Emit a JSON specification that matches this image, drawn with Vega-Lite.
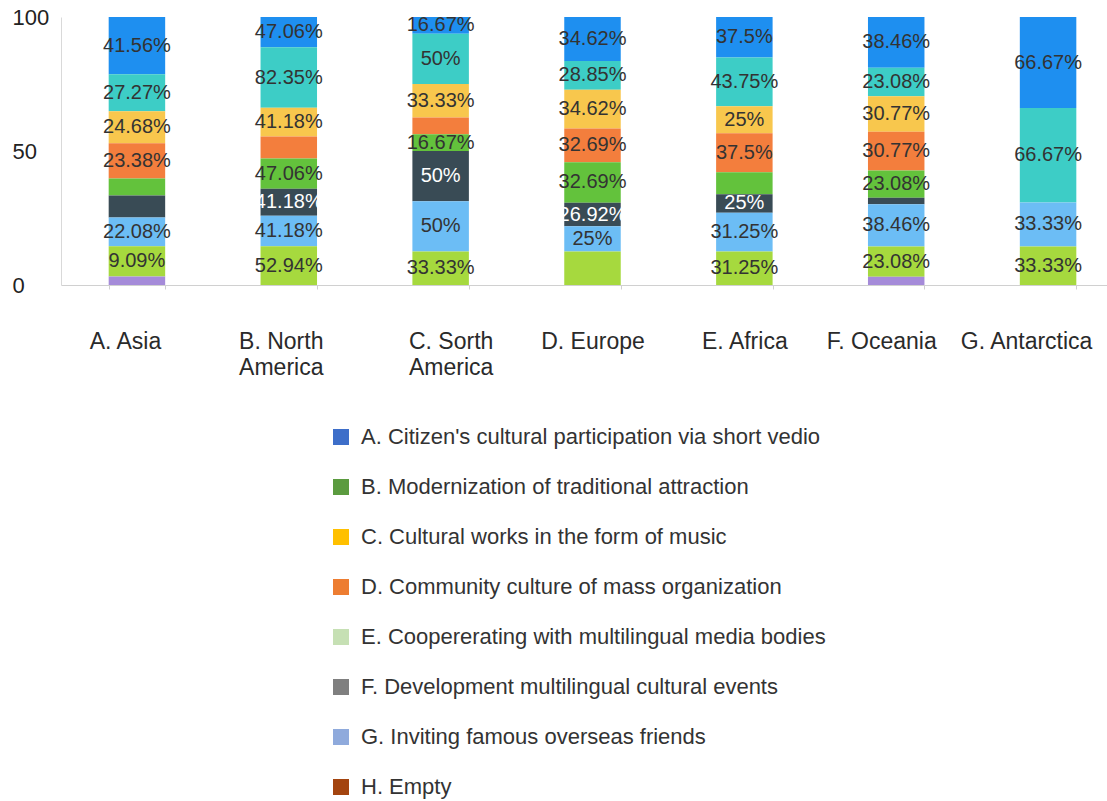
{
  "$schema": "https://vega.github.io/schema/vega-lite/v6.json",
  "width": 1046,
  "height": 268,
  "autosize": {"type": "none"},
  "padding": {"left": 61, "top": 17, "right": 0, "bottom": 516},
  "background": "white",
  "config": {
    "font": "Liberation Sans",
    "view": {"stroke": null}
  },
  "datasets": {
    "bars": [
      {"region": "A. Asia", "segment": 9, "value": 21.4, "label": "41.56%"},
      {"region": "A. Asia", "segment": 8, "value": 13.8, "label": "27.27%"},
      {"region": "A. Asia", "segment": 7, "value": 11.9, "label": "24.68%"},
      {"region": "A. Asia", "segment": 6, "value": 13.2, "label": "23.38%"},
      {"region": "A. Asia", "segment": 5, "value": 6.3, "label": ""},
      {"region": "A. Asia", "segment": 4, "value": 8.2, "label": ""},
      {"region": "A. Asia", "segment": 3, "value": 10.7, "label": "22.08%"},
      {"region": "A. Asia", "segment": 2, "value": 11.3, "label": "9.09%"},
      {"region": "A. Asia", "segment": 1, "value": 3.2, "label": ""},
      {"region": "B. North America", "segment": 9, "value": 11.3, "label": "47.06%"},
      {"region": "B. North America", "segment": 8, "value": 22.6, "label": "82.35%"},
      {"region": "B. North America", "segment": 7, "value": 10.7, "label": "41.18%"},
      {"region": "B. North America", "segment": 6, "value": 8.2, "label": ""},
      {"region": "B. North America", "segment": 5, "value": 11.3, "label": "47.06%"},
      {"region": "B. North America", "segment": 4, "value": 10.1, "label": "41.18%"},
      {"region": "B. North America", "segment": 3, "value": 11.3, "label": "41.18%"},
      {"region": "B. North America", "segment": 2, "value": 14.5, "label": "52.94%"},
      {"region": "C. Sorth America", "segment": 9, "value": 6.25, "label": "16.67%"},
      {"region": "C. Sorth America", "segment": 8, "value": 18.75, "label": "50%"},
      {"region": "C. Sorth America", "segment": 7, "value": 12.5, "label": "33.33%"},
      {"region": "C. Sorth America", "segment": 6, "value": 6.25, "label": ""},
      {"region": "C. Sorth America", "segment": 5, "value": 6.25, "label": "16.67%"},
      {"region": "C. Sorth America", "segment": 4, "value": 18.75, "label": "50%"},
      {"region": "C. Sorth America", "segment": 3, "value": 18.75, "label": "50%"},
      {"region": "C. Sorth America", "segment": 2, "value": 12.5, "label": "33.33%"},
      {"region": "D. Europe", "segment": 9, "value": 16.4, "label": "34.62%"},
      {"region": "D. Europe", "segment": 8, "value": 10.7, "label": "28.85%"},
      {"region": "D. Europe", "segment": 7, "value": 14.5, "label": "34.62%"},
      {"region": "D. Europe", "segment": 6, "value": 12.6, "label": "32.69%"},
      {"region": "D. Europe", "segment": 5, "value": 15.1, "label": "32.69%"},
      {"region": "D. Europe", "segment": 4, "value": 8.8, "label": "26.92%"},
      {"region": "D. Europe", "segment": 3, "value": 9.4, "label": "25%"},
      {"region": "D. Europe", "segment": 2, "value": 12.5, "label": ""},
      {"region": "E. Africa", "segment": 9, "value": 15.1, "label": "37.5%"},
      {"region": "E. Africa", "segment": 8, "value": 18.2, "label": "43.75%"},
      {"region": "E. Africa", "segment": 7, "value": 10.1, "label": "25%"},
      {"region": "E. Africa", "segment": 6, "value": 14.5, "label": "37.5%"},
      {"region": "E. Africa", "segment": 5, "value": 8.2, "label": ""},
      {"region": "E. Africa", "segment": 4, "value": 6.9, "label": "25%"},
      {"region": "E. Africa", "segment": 3, "value": 14.5, "label": "31.25%"},
      {"region": "E. Africa", "segment": 2, "value": 12.5, "label": "31.25%"},
      {"region": "F. Oceania", "segment": 9, "value": 18.9, "label": "38.46%"},
      {"region": "F. Oceania", "segment": 8, "value": 10.7, "label": "23.08%"},
      {"region": "F. Oceania", "segment": 7, "value": 13.2, "label": "30.77%"},
      {"region": "F. Oceania", "segment": 6, "value": 14.5, "label": "30.77%"},
      {"region": "F. Oceania", "segment": 5, "value": 10.1, "label": "23.08%"},
      {"region": "F. Oceania", "segment": 4, "value": 2.5, "label": ""},
      {"region": "F. Oceania", "segment": 3, "value": 15.7, "label": "38.46%"},
      {"region": "F. Oceania", "segment": 2, "value": 11.3, "label": "23.08%"},
      {"region": "F. Oceania", "segment": 1, "value": 3.1, "label": ""},
      {"region": "G. Antarctica", "segment": 9, "value": 34.0, "label": "66.67%"},
      {"region": "G. Antarctica", "segment": 8, "value": 35.2, "label": "66.67%"},
      {"region": "G. Antarctica", "segment": 3, "value": 16.4, "label": "33.33%"},
      {"region": "G. Antarctica", "segment": 2, "value": 14.4, "label": "33.33%"}
    ],
    "options": [
      {"option": "A. Citizen's cultural participation via short vedio"},
      {"option": "B. Modernization of traditional attraction"},
      {"option": "C. Cultural works in the form of music"},
      {"option": "D. Community culture of mass organization"},
      {"option": "E. Coopererating with multilingual media bodies"},
      {"option": "F. Development multilingual cultural events"},
      {"option": "G. Inviting famous overseas friends"},
      {"option": "H. Empty"}
    ]
  },
  "layer": [
    {
      "data": {"name": "bars"},
      "transform": [
        {"stack": "value", "groupby": ["region"], "sort": [{"field": "segment", "order": "ascending"}], "as": ["v0", "v1"]}
      ],
      "encoding": {
        "x": {
          "field": "region",
          "type": "nominal",
          "sort": null,
          "scale": {"range": [0, 1063], "paddingInner": 0.628, "paddingOuter": 0.314},
          "axis": {
            "title": null,
            "labelAngle": 0,
            "labelFontSize": 23,
            "labelColor": "#2a2a2a",
            "labelPadding": 41,
            "labelLineHeight": 26,
            "labelExpr": "split(replace(datum.label, ' America', '|America'), '|')",
            "labelOffset": {
              "condition": [
                {"test": "datum.value === 'G. Antarctica'", "value": -22},
                {"test": "datum.value === 'F. Oceania'", "value": -15},
                {"test": "datum.value === 'A. Asia'", "value": -12},
                {"test": "datum.value === 'C. Sorth America'", "value": 10},
                {"test": "datum.value === 'B. North America'", "value": -8}
              ],
              "value": 0
            },
            "tickBand": "extent",
            "tickSize": 4,
            "tickColor": "#d0d0d0",
            "domainColor": "#d0d0d0",
            "grid": false
          }
        }
      },
      "layer": [
        {
          "mark": {"type": "bar"},
          "encoding": {
            "y": {
              "field": "v0",
              "type": "quantitative",
              "scale": {"domain": [0, 100], "nice": false},
              "axis": {
                "title": null,
                "values": [0, 50, 100],
                "ticks": false,
                "grid": false,
                "labelAlign": "left",
                "labelPadding": 49,
                "labelFontSize": 22,
                "labelColor": "#222222",
                "domainColor": "#d9d9d9"
              }
            },
            "y2": {"field": "v1"},
            "color": {
              "field": "segment",
              "type": "nominal",
              "scale": {
                "domain": [1, 2, 3, 4, 5, 6, 7, 8, 9],
                "range": ["#a58bd9", "#a6d93e", "#6cbdf5", "#394b55", "#63c23c", "#f37e3d", "#f8c74d", "#3dcdc6", "#1e8ff0"]
              },
              "legend": null
            }
          }
        },
        {
          "transform": [
            {"fold": ["v0", "v1"], "as": ["edge", "pos"]},
            {"aggregate": [{"op": "mean", "field": "pos", "as": "mid"}], "groupby": ["region", "segment", "label"]}
          ],
          "mark": {"type": "text", "fontSize": 20, "baseline": "middle", "align": "center"},
          "encoding": {
            "y": {"field": "mid", "type": "quantitative"},
            "text": {"field": "label"},
            "color": {
              "condition": {"test": "datum.segment === 4", "value": "#ffffff"},
              "value": "#333333"
            }
          }
        }
      ]
    },
    {
      "data": {"name": "options"},
      "mark": {"type": "square", "opacity": 0},
      "encoding": {
        "color": {
          "field": "option",
          "type": "nominal",
          "scale": {
            "domain": [
              "A. Citizen's cultural participation via short vedio",
              "B. Modernization of traditional attraction",
              "C. Cultural works in the form of music",
              "D. Community culture of mass organization",
              "E. Coopererating with multilingual media bodies",
              "F. Development multilingual cultural events",
              "G. Inviting famous overseas friends",
              "H. Empty"
            ],
            "range": ["#3d6ec9", "#5b9b3f", "#ffc000", "#ed7d31", "#c6e0b4", "#7f7f7f", "#8faadc", "#a3440f"]
          },
          "legend": {
            "title": null,
            "orient": "none",
            "legendX": 269,
            "legendY": 409,
            "direction": "vertical",
            "symbolType": "square",
            "symbolSize": 256,
            "symbolOpacity": 1,
            "symbolStrokeWidth": 0,
            "labelFontSize": 22,
            "labelColor": "#333333",
            "labelOffset": 9,
            "labelLimit": 0,
            "rowPadding": 28,
            "padding": 0
          }
        }
      }
    }
  ],
  "resolve": {"scale": {"color": "independent"}}
}
